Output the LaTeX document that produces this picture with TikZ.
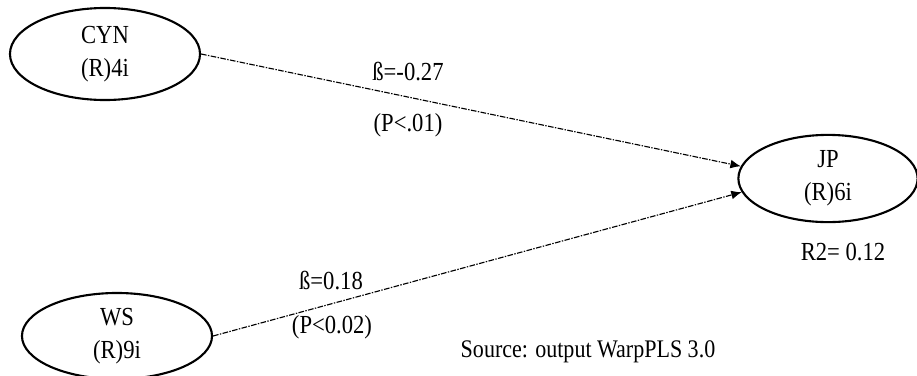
\documentclass[tikz,border=0pt]{standalone}
\usepackage{fontspec}
\setmainfont{Liberation Serif}
\newfontfamily\fuenteAngosta[FakeStretch=0.87]{Liberation Serif}
\usetikzlibrary{
	arrows.meta,
	shapes.geometric
}
\tikzset{
	cajaVar/.style={
		ellipse,
		draw=black,
		line width=1.5pt,
		inner sep=0pt,
		align=center,
		minimum width=4.75cm,
		minimum height=2.3cm,
		font=\fuenteAngosta\fontsize{18.5}{23.5}\selectfont
	},
	flechaRuta/.style={
		-{Latex[length=2.6mm,width=2.2mm]},
		line width=0.8pt,
		draw=black,
		dash pattern=on 4pt off 1pt on 1pt off 1pt
	},
	textoCoef/.style={
		inner sep=0pt,
		font=\fuenteAngosta\fontsize{18.5}{20}\selectfont
	},
	notaFuente/.style={
		inner sep=0pt,
		font=\fuenteAngosta\fontsize{18}{20}\selectfont
	}
}
\begin{document}
\begin{tikzpicture}[x=0.025cm, y=-0.025cm]
		\useasboundingbox (0,0) rectangle (917,376);
		% constructos
		\node[cajaVar] (cyn) at (105,54) {CYN\\(R)4i};
		\node[cajaVar, minimum width=4.48cm, minimum height=2.18cm] (jp) at (828,178.5) {JP\\(R)6i};
		\node[cajaVar, minimum height=2.15cm] (ws) at (117,336) {WS\\(R)9i};
		% rutas
		\draw[flechaRuta] (cyn.east) -- (jp.172);
		\draw[flechaRuta] (ws.east) -- (jp.189);
		\node[textoCoef] (betaCyn) at (408,72) {ß=-0.27};
		\node[textoCoef] (pCyn) at (408,125) {(P<.01)};
		\node[textoCoef] (betaWs) at (331,281) {ß=0.18};
		\node[textoCoef] (pWs) at (332,327) {(P<0.02)};
		\node[textoCoef] (rJp) at (843,252) {R2= 0.12};
		\node[notaFuente] (fuente) at (588,352) {Source: output WarpPLS 3.0};
	\end{tikzpicture}
\end{document}
